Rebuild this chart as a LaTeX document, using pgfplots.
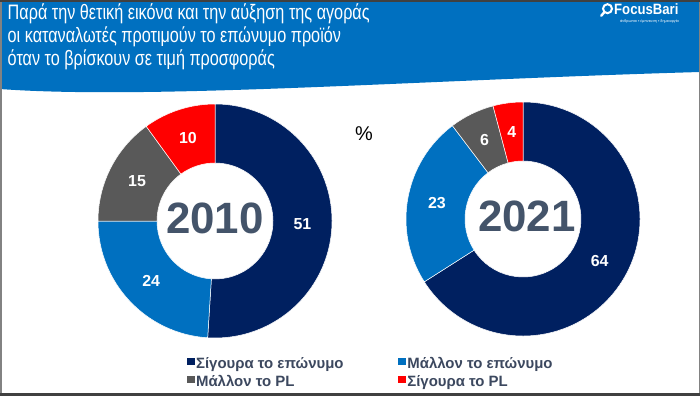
\documentclass[border=0pt]{standalone}
\usepackage{pgfplots}
\pgfplotsset{compat=1.18}
\usepackage{pgfplotstable}
\usepackage{fontspec}
\setmainfont{Liberation Sans}
\definecolor{fcnavy}{RGB}{0,32,96}
\definecolor{fcblue}{RGB}{0,112,192}
\definecolor{fcgray}{RGB}{89,89,89}
\definecolor{fcred}{RGB}{255,0,0}
\definecolor{hdrblue}{RGB}{0,112,192}
\definecolor{yeartxt}{RGB}{68,84,106}
\definecolor{legtxt}{RGB}{60,72,95}
\definecolor{framecol}{RGB}{64,64,64}
\definecolor{sidecol}{RGB}{130,130,130}

\pgfplotstableread{
share col
51 fcnavy
24 fcblue
15 fcgray
10 fcred
}\dataA
\pgfplotstableread{
share col
64 fcnavy
23 fcblue
6 fcgray
4 fcred
}\dataB

\newcommand\lblfont{\fontsize{16}{16}\selectfont\bfseries}

\newcommand\donut[3]{%
  \pgfplotstablegetrowsof{#1}%
  \pgfmathtruncatemacro\nrows{\pgfplotsretval-1}%
  \def\total{0}%
  \pgfplotsforeachungrouped \idx in {0,...,\nrows}{%
    \pgfplotstablegetelem{\idx}{share}\of{#1}%
    \pgfmathsetmacro\total{\total+\pgfplotsretval}%
  }%
  \def\cum{0}%
  \pgfplotsforeachungrouped \idx in {0,...,\nrows}{%
    \pgfplotstablegetelem{\idx}{share}\of{#1}\let\wv\pgfplotsretval
    \pgfplotstablegetelem{\idx}{col}\of{#1}\let\wc\pgfplotsretval
    \pgfmathsetmacro\sa{90-(\cum/\total)*360}%
    \pgfmathsetmacro\cum{\cum+\wv}%
    \pgfmathsetmacro\ea{90-(\cum/\total)*360}%
    \pgfmathsetmacro\ma{(\sa+\ea)/2}%
    \pgfmathsetmacro\xa{#2+117*cos(\sa)}%
    \pgfmathsetmacro\ya{#3+117*sin(\sa)}%
    \pgfmathsetmacro\xb{#2+58*cos(\ea)}%
    \pgfmathsetmacro\yb{#3+58*sin(\ea)}%
    \pgfmathsetmacro\xm{#2+87.5*cos(\ma)}%
    \pgfmathsetmacro\ym{#3+87.5*sin(\ma)}%
    \edef\temp{%
      \noexpand\fill[\wc, draw=white, line width=0.5bp]
        (axis cs:\xa,\ya)
        arc[start angle=\sa, end angle=\ea, radius=117bp]
        -- (axis cs:\xb,\yb)
        arc[start angle=\ea, end angle=\sa, radius=58bp] -- cycle;
      \noexpand\node[text=white, font=\noexpand\lblfont] at (axis cs:\xm,\ym) {\wv};
    }%
    \temp
  }%
}

\begin{document}
\begin{tikzpicture}
\begin{axis}[
  x=1bp, y=1bp, xmin=0, xmax=700, ymin=0, ymax=396,
  hide axis, scale only axis, clip=false,
  legend image code/.code={\fill[#1] (0bp,-1bp) rectangle (6.5bp,5.5bp);},
  legend columns=2,
  legend cell align=left,
  legend style={at={(axis cs:187,41)}, anchor=north west, draw=none, fill=none,
    font=\fontsize{15}{15}\selectfont\bfseries, text=legtxt,
    /tikz/every even column/.append style={column sep=53bp},
    row sep=1bp, inner sep=0bp},
]
\fill[white] (axis cs:0,0) rectangle (axis cs:700,396);
% header
\fill[hdrblue] (axis cs:0,396) -- (axis cs:700,396) -- (axis cs:700,324)
  .. controls (axis cs:420,316) and (axis cs:150,296) .. (axis cs:0,307) -- cycle;
\fill[framecol] (axis cs:0,393.5) rectangle (axis cs:700,396);
\fill[framecol] (axis cs:0,0) rectangle (axis cs:700,3);
\fill[sidecol] (axis cs:0,3) rectangle (axis cs:1.5,393.5);
\fill[sidecol] (axis cs:698.5,3) rectangle (axis cs:700,393.5);
% title
\node[anchor=base west, text=white, xscale=0.775, font=\fontsize{21}{21}\selectfont] at (axis cs:5,376.5) {Παρά την θετική εικόνα και την αύξηση της αγοράς};
\node[anchor=base west, text=white, xscale=0.775, font=\fontsize{21}{21}\selectfont] at (axis cs:5,353.5) {οι καταναλωτές προτιμούν το επώνυμο προϊόν};
\node[anchor=base west, text=white, xscale=0.775, font=\fontsize{21}{21}\selectfont] at (axis cs:5,330.5) {όταν το βρίσκουν σε τιμή προσφοράς};
% logo
\draw[white, line width=2bp] (axis cs:607.5,387.3) circle[radius=4.5bp];
\draw[white, line width=2.4bp, line cap=round] (axis cs:604.3,383.8) -- (axis cs:601.2,380.2);
\node[anchor=west, text=white, inner sep=0pt, xscale=0.88, font=\fontsize{15}{15}\selectfont\bfseries] at (axis cs:614,386.5) {FocusBari};
\node[anchor=west, text=white, inner sep=0pt, font=\fontsize{3.8}{4}\selectfont] at (axis cs:620,374.5) {άνθρωποι ▪ έμπνευση ▪ δημιουργία};
% donuts
\donut{\dataA}{215}{175}
\donut{\dataB}{523}{177}
\node[font=\fontsize{44}{44}\selectfont\bfseries, text=yeartxt] at (axis cs:215,178) {2010};
\node[font=\fontsize{44}{44}\selectfont\bfseries, text=yeartxt] at (axis cs:527,179.3) {2021};
\node[font=\fontsize{20}{20}\selectfont] at (axis cs:364,262.5) {\%};
% legend
\addlegendimage{fcnavy}\addlegendentry{Σίγουρα το επώνυμο}
\addlegendimage{fcblue}\addlegendentry{Μάλλον το επώνυμο}
\addlegendimage{fcgray}\addlegendentry{Μάλλον το PL}
\addlegendimage{fcred}\addlegendentry{Σίγουρα το PL}
\end{axis}
\end{tikzpicture}
\end{document}
